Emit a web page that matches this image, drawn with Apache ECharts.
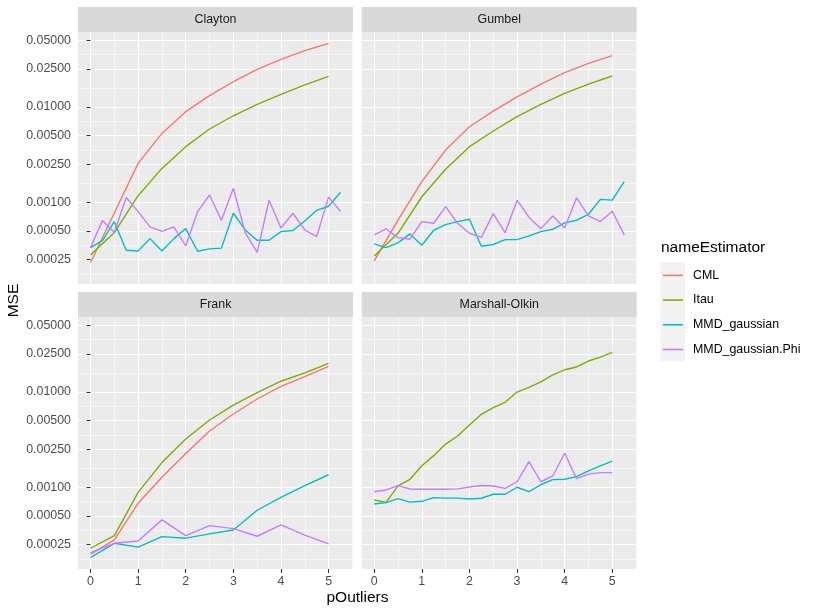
<!DOCTYPE html>
<html>
<head>
<meta charset="utf-8">
<title>MSE vs pOutliers</title>
<script src="https://cdn.jsdelivr.net/npm/echarts@6/dist/echarts.min.js"></script>
<style>
  html, body { margin: 0; padding: 0; background: #fff; }
  #chart { width: 817px; height: 614px; }
</style>
</head>
<body>
<div id="chart"></div>
<script>
// categories
var estimators = ['CML', 'Itau', 'MMD_gaussian', 'MMD_gaussian.Phi'];
var copulas = ['Clayton', 'Gumbel', 'Frank', 'Marshall-Olkin'];
var colors = ['#F8766D', '#7CAE00', '#00BFC4', '#C77CFF'];

// x positions (pOutliers)
var xHalf = [0, 0.5, 1, 1.5, 2, 2.5, 3, 3.5, 4, 4.5, 5];
var xQuarter = [0, 0.25, 0.5, 0.75, 1, 1.25, 1.5, 1.75, 2, 2.25, 2.5, 2.75, 3, 3.25, 3.5, 3.75, 4, 4.25, 4.5, 4.75, 5, 5.25];
var xQuarterTo5 = [0, 0.25, 0.5, 0.75, 1, 1.25, 1.5, 1.75, 2, 2.25, 2.5, 2.75, 3, 3.25, 3.5, 3.75, 4, 4.25, 4.5, 4.75, 5];

// MSE values
var claytonCML = [0.000233, 0.00077, 0.00255, 0.00526, 0.00888, 0.0131, 0.0183, 0.0247, 0.0314, 0.0387, 0.0461];
var claytonItau = [0.00028, 0.00048, 0.00117, 0.00226, 0.00382, 0.00585, 0.00805, 0.0106, 0.0135, 0.0170, 0.0208];
var claytonMMD = [0.000334, 0.000395, 0.000625, 0.000313, 0.000308, 0.000415, 0.000308, 0.000415, 0.000528, 0.000306, 0.000324,
                  0.00033, 0.000766, 0.000512, 0.000399, 0.000399, 0.000491, 0.000505, 0.000635, 0.000822, 0.000906, 0.00127];
var claytonPhi = [0.000334, 0.000641, 0.00048, 0.00112, 0.000797, 0.000551, 0.000495, 0.000551, 0.000348, 0.000797, 0.00119,
                  0.000647, 0.0014, 0.00048, 0.000298, 0.00105, 0.000537, 0.000766, 0.000512, 0.000436, 0.00113, 0.000803];

var gumbelCML = [0.000242, 0.00065, 0.00164, 0.00352, 0.00618, 0.00902, 0.0127, 0.0173, 0.0228, 0.0285, 0.0343];
var gumbelItau = [0.000273, 0.000472, 0.00114, 0.00221, 0.00382, 0.00557, 0.00787, 0.0106, 0.0138, 0.0173, 0.021];
var gumbelMMD = [0.000365, 0.000334, 0.000374, 0.000465, 0.000354, 0.000508, 0.000582, 0.000626, 0.000662, 0.000345, 0.00036,
                 0.000405, 0.000405, 0.000443, 0.000491, 0.00052, 0.000606, 0.000647, 0.000747, 0.00107, 0.00105, 0.00164];
var gumbelPhi = [0.000454, 0.000524, 0.000425, 0.000409, 0.000626, 0.000601, 0.000897, 0.000601, 0.000472, 0.000428, 0.000758,
                 0.000477, 0.00105, 0.000695, 0.000528, 0.000718, 0.000537, 0.00111, 0.000718, 0.000626, 0.000803, 0.000454];

var frankCML = [0.000198, 0.00028, 0.000678, 0.00127, 0.00226, 0.00388, 0.00585, 0.0084, 0.0114, 0.0144, 0.0185];
var frankItau = [0.000229, 0.000311, 0.000883, 0.00181, 0.0032, 0.00506, 0.00726, 0.00977, 0.0129, 0.0158, 0.0198];
var frankMMD = [0.000183, 0.000258, 0.000235, 0.000303, 0.000292, 0.000324, 0.000356, 0.000573, 0.000783, 0.00104, 0.00135];
var frankPhi = [0.000206, 0.000258, 0.000273, 0.000454, 0.000311, 0.000395, 0.000368, 0.000306, 0.000402, 0.000315, 0.000254];

var moItau = [0.000734, 0.000694, 0.00103, 0.00121, 0.00168, 0.00214, 0.00283, 0.00344, 0.00449, 0.0058, 0.00681,
              0.00775, 0.00993, 0.0111, 0.0127, 0.015, 0.017, 0.0182, 0.021, 0.0231, 0.0259];
var moMMD = [0.000667, 0.000689, 0.000759, 0.000697, 0.000711, 0.000777, 0.000768, 0.000768, 0.000752, 0.000765, 0.000843,
             0.000843, 0.000998, 0.000897, 0.00106, 0.0012, 0.00121, 0.00129, 0.00148, 0.00167, 0.00188];
var moPhi = [0.000897, 0.000935, 0.00104, 0.000958, 0.00095, 0.00095, 0.00095, 0.000961, 0.001005, 0.00104, 0.00103,
             0.000972, 0.00114, 0.00185, 0.00114, 0.00131, 0.00227, 0.00123, 0.00137, 0.00142, 0.00142];

// tick labels
var yBreaks = [0.00025, 0.0005, 0.001, 0.0025, 0.005, 0.01, 0.025, 0.05];
var xBreaks = [0, 1, 2, 3, 4, 5];

// which lines go in which panel: [estimator index, xs, ys]
var panels = [
  [[0, xHalf, claytonCML], [1, xHalf, claytonItau], [2, xQuarter, claytonMMD], [3, xQuarter, claytonPhi]],
  [[0, xHalf, gumbelCML], [1, xHalf, gumbelItau], [2, xQuarter, gumbelMMD], [3, xQuarter, gumbelPhi]],
  [[0, xHalf, frankCML], [1, xHalf, frankItau], [2, xHalf, frankMMD], [3, xHalf, frankPhi]],
  [[1, xQuarterTo5, moItau], [2, xQuarterTo5, moMMD], [3, xQuarterTo5, moPhi]]
];

var FONT = '"Liberation Sans", Arial, Helvetica, sans-serif';
var SMALL = 12.4, BIG = 15.5;
var chart = echarts.init(document.getElementById('chart'));

// log10 scale, ggplot style 5% expansion
var allLog = [];
panels.forEach(function (p) { p.forEach(function (s) { s[2].forEach(function (v) { allLog.push(Math.log10(v)); }); }); });
var lo = Math.min.apply(null, allLog), hi = Math.max.apply(null, allLog);
var yMin = lo - (hi - lo) * 0.05, yMax = hi + (hi - lo) * 0.05;
var allX = xQuarter;
var xMin = allX[0] - (allX[allX.length - 1] - allX[0]) * 0.05;
var xMax = allX[allX.length - 1] + (allX[allX.length - 1] - allX[0]) * 0.05;

var yMajor = yBreaks.map(function (b) { return Math.log10(b); });
// minor breaks: midpoints, plus one step past each end
var yExt = [yMajor[0] - (yMajor[1] - yMajor[0])].concat(yMajor, [yMajor[yMajor.length - 1] + (yMajor[1] - yMajor[0])]);
var yMinor = [];
for (var k = 0; k < yExt.length - 1; k++) {
  var m = (yExt[k] + yExt[k + 1]) / 2;
  if (m > yMin && m < yMax) yMinor.push(m);
}
var xMinor = [];
var xExt = [-1].concat(xBreaks, [6]);
for (var k2 = 0; k2 < xExt.length - 1; k2++) {
  var mx = (xExt[k2] + xExt[k2 + 1]) / 2;
  if (mx > xMin && mx < xMax) xMinor.push(mx);
}

var pos = [[78, 32], [361.7, 32], [78, 317], [361.7, 317]];
var W = 275, H = 252;
var grids = [], xAxes = [], yAxes = [], series = [], graphics = [];

panels.forEach(function (p, i) {
  var isLeft = i % 2 === 0, isBottom = i >= 2;
  grids.push({ left: pos[i][0], top: pos[i][1], width: W, height: H, show: true,
    backgroundColor: '#EBEBEB', borderWidth: 0 });

  xAxes.push({ gridIndex: i, type: 'value', min: xMin, max: xMax,
    axisLine: { show: false },
    axisTick: { show: isBottom, customValues: xBreaks, length: 4, lineStyle: { color: '#333333', width: 1 } },
    axisLabel: { show: isBottom, customValues: xBreaks, margin: 7, color: '#4D4D4D', fontSize: SMALL, fontFamily: FONT },
    splitLine: { show: true, lineStyle: { color: '#FFFFFF', width: 1.1 } } });
  xAxes.push({ gridIndex: i, type: 'value', min: xMin, max: xMax, position: 'bottom',
    axisLine: { show: false },
    axisTick: { show: false, customValues: xMinor },
    axisLabel: { show: false, customValues: xMinor },
    splitLine: { show: true, lineStyle: { color: '#FFFFFF', width: 0.55 } } });

  yAxes.push({ gridIndex: i, type: 'value', min: yMin, max: yMax,
    axisLine: { show: false },
    axisTick: { show: isLeft, customValues: yMajor, length: 4, lineStyle: { color: '#333333', width: 1 } },
    axisLabel: { show: isLeft, customValues: yMajor, margin: 7, color: '#4D4D4D', fontSize: SMALL, fontFamily: FONT,
      formatter: function (v) { return Math.pow(10, v).toFixed(5); } },
    splitLine: { show: true, lineStyle: { color: '#FFFFFF', width: 1.1 } } });
  yAxes.push({ gridIndex: i, type: 'value', min: yMin, max: yMax, position: 'left',
    axisLine: { show: false },
    axisTick: { show: false, customValues: yMinor },
    axisLabel: { show: false, customValues: yMinor },
    splitLine: { show: true, lineStyle: { color: '#FFFFFF', width: 0.55 } } });

  p.forEach(function (s) {
    var e = s[0];
    series.push({
      type: 'line', name: estimators[e], xAxisIndex: 2 * i, yAxisIndex: 2 * i,
      data: s[1].map(function (x, j) { return [x, Math.log10(s[2][j])]; }),
      symbol: 'none', showSymbol: false, z: 3,
      lineStyle: { color: colors[e], width: 1.4 }, itemStyle: { color: colors[e] }
    });
  });

  // facet strip
  graphics.push({ type: 'rect', z: 1, shape: { x: pos[i][0], y: pos[i][1] - 25, width: W, height: 25 },
    style: { fill: '#D9D9D9' } });
  graphics.push({ type: 'text', z: 2, x: pos[i][0] + W / 2, y: pos[i][1] - 12.5,
    style: { text: copulas[i], fill: '#1A1A1A', fontSize: SMALL, fontFamily: FONT, align: 'center', verticalAlign: 'middle' } });
});

// axis titles and legend title
graphics.push({ type: 'text', x: 13.5, y: 300.5, rotation: Math.PI / 2,
  style: { text: 'MSE', fill: '#000', fontSize: BIG, fontFamily: FONT, align: 'center', verticalAlign: 'middle' } });
graphics.push({ type: 'text', x: 357.5, y: 598,
  style: { text: 'pOutliers', fill: '#000', fontSize: BIG, fontFamily: FONT, align: 'center', verticalAlign: 'middle' } });
graphics.push({ type: 'text', x: 661, y: 248,
  style: { text: 'nameEstimator', fill: '#000', fontSize: BIG, fontFamily: FONT, align: 'left', verticalAlign: 'middle' } });
graphics.push({ type: 'rect', z: 0, shape: { x: 660.7, y: 262, width: 24.3, height: 99 }, style: { fill: '#F2F2F2' } });

chart.setOption({
  animation: false,
  grid: grids,
  xAxis: xAxes,
  yAxis: yAxes,
  series: series,
  graphic: graphics,
  legend: {
    data: estimators.map(function (n) { return { name: n, icon: 'rect' }; }),
    orient: 'vertical', left: 663, top: 268, padding: 0,
    itemWidth: 20, itemHeight: 1.6, itemGap: 10, selectedMode: false,
    textStyle: { fontSize: SMALL, color: '#000', fontFamily: FONT, lineHeight: 14.7, padding: [0, 0, 0, 5] }
  }
});
</script>
</body>
</html>
